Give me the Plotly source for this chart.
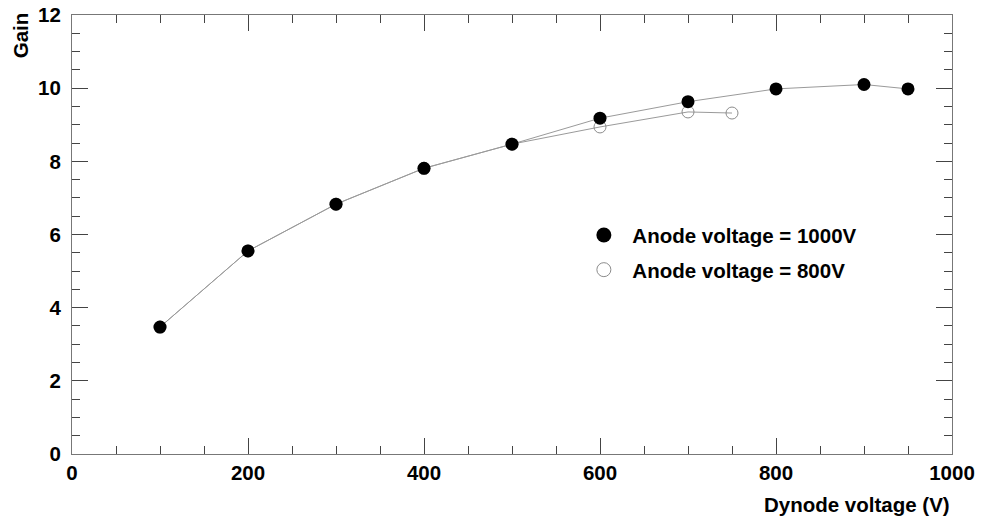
import plotly.graph_objects as go

# Dynode voltage scan, two anode settings
dynode_1000 = [100, 200, 300, 400, 500, 600, 700, 800, 900, 950]
gain_1000 = [3.47, 5.55, 6.83, 7.81, 8.47, 9.18, 9.63, 9.98, 10.10, 9.98]

dynode_800 = [100, 200, 300, 400, 500, 600, 700, 750]
gain_800 = [3.47, 5.55, 6.83, 7.81, 8.47, 8.94, 9.35, 9.32]

labels = ["Anode voltage = 1000V", "Anode voltage = 800V"]

FONT = "Liberation Sans, Arial, Helvetica, sans-serif"
FS = 20.5
LINE_GREY = "#9a9a9a"

filled = dict(symbol="circle", size=13, color="black")
hollow = dict(symbol="circle-open", size=12, color="#8c8c8c", line=dict(width=1))

fig = go.Figure()
fig.add_trace(go.Scatter(
    x=dynode_800, y=gain_800, mode="lines+markers", showlegend=False,
    line=dict(color=LINE_GREY, width=1), marker=hollow,
))
fig.add_trace(go.Scatter(
    x=dynode_1000, y=gain_1000, mode="lines+markers", showlegend=False,
    line=dict(color=LINE_GREY, width=1), marker=filled,
))
# legend entries show the marker only
fig.add_trace(go.Scatter(x=[None], y=[None], mode="markers", name=labels[0],
                         legendgroup="a", marker=dict(filled, size=15)))
fig.add_trace(go.Scatter(x=[None], y=[None], mode="markers", name=labels[1],
                         legendgroup="b", marker=dict(hollow, size=14)))

axis_common = dict(
    showgrid=False, zeroline=False, showline=True, linecolor="#777777", linewidth=1,
    mirror="ticks", ticks="inside", ticklen=16, tickcolor="#444444", tickwidth=1,
    automargin=False,
    tickfont=dict(family=FONT, size=FS, color="black", weight="bold"),
)

fig.update_xaxes(range=[0, 1000], dtick=200, tick0=0,
                 minor=dict(dtick=50, ticks="inside", ticklen=8, tickcolor="#444444"),
                 **axis_common)
fig.update_yaxes(range=[0, 12], dtick=2, tick0=0, ticklabelstandoff=6,
                 minor=dict(dtick=0.5, ticks="inside", ticklen=8, tickcolor="#444444"),
                 **axis_common)

fig.add_annotation(text="Gain", xref="paper", yref="paper", x=-0.059, y=1.011,
                   xanchor="center", yanchor="top", textangle=-90, showarrow=False,
                   font=dict(family=FONT, size=FS, color="black", weight="bold"))
fig.add_annotation(text="Dynode voltage (V)", xref="paper", yref="paper", x=1.0, y=-0.084,
                   xanchor="right", yanchor="top", showarrow=False,
                   font=dict(family=FONT, size=FS, color="black", weight="bold"))

fig.update_layout(
    width=981, height=518,
    margin=dict(l=72, r=29, t=15, b=64),
    paper_bgcolor="white", plot_bgcolor="white",
    showlegend=True,
    legend=dict(x=0.572, y=0.544, xanchor="left", yanchor="top", traceorder="grouped",
                bgcolor="rgba(0,0,0,0)", tracegroupgap=5, itemsizing="trace", itemwidth=47,
                font=dict(family=FONT, size=FS, color="black", weight="bold")),
)

fig.write_html("out.html")
